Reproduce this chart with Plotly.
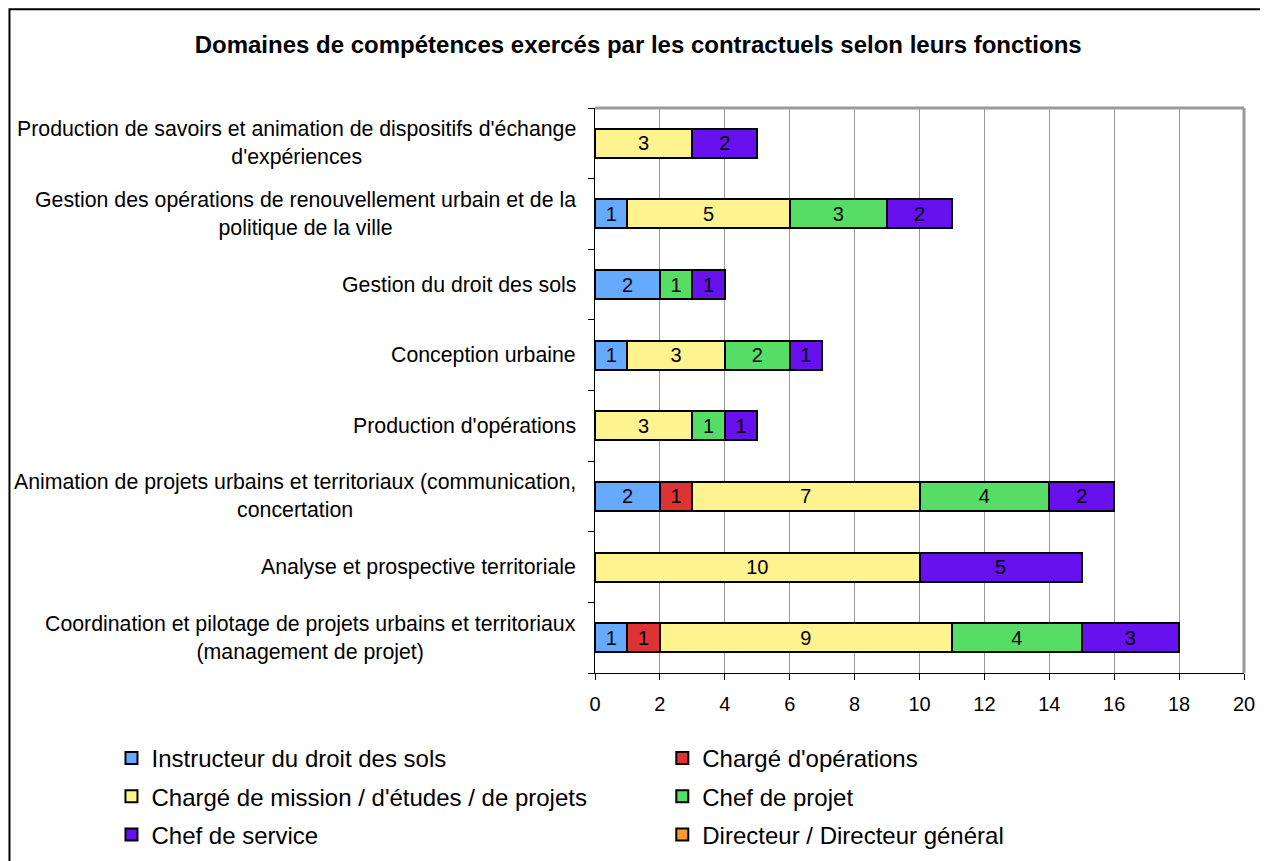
import plotly.graph_objects as go

# categories, bottom to top
domaines = [
    "Coordination et pilotage de projets urbains et territoriaux<br>(management de projet)",
    "Analyse et prospective territoriale",
    "Animation de projets urbains et territoriaux (communication,<br>concertation",
    "Production d'opérations",
    "Conception urbaine",
    "Gestion du droit des sols",
    "Gestion des opérations de renouvellement urbain et de la<br>politique de la ville",
    "Production de savoirs et animation de dispositifs d'échange<br>d'expériences",
]

instructeur = [1, 0, 2, 0, 1, 2, 1, 0]
charge_operations = [1, 0, 1, 0, 0, 0, 0, 0]
charge_mission = [9, 10, 7, 3, 3, 0, 5, 3]
chef_projet = [4, 0, 4, 1, 2, 1, 3, 0]
chef_service = [3, 5, 2, 1, 1, 1, 2, 2]
directeur = [0, 0, 0, 0, 0, 0, 0, 0]

# name, values, colour, legend column
series = [
    ("Instructeur du droit des sols", instructeur, "#66aaff", "legend"),
    ("Chargé d'opérations", charge_operations, "#dd3333", "legend2"),
    ("Chargé de mission / d'études / de projets", charge_mission, "#fff38f", "legend"),
    ("Chef de projet", chef_projet, "#55dd66", "legend2"),
    ("Chef de service", chef_service, "#6611ee", "legend"),
    ("Directeur / Directeur général", directeur, "#ff9933", "legend2"),
]

FONT = "Liberation Sans, Arial, sans-serif"

fig = go.Figure()
for name, vals, color, leg in series:
    xs = [v if v else None for v in vals]
    fig.add_trace(go.Bar(
        x=xs, y=domaines, orientation="h", name=name, legend=leg, legendgroup=name,
        marker=dict(color=color, line=dict(color="black", width=2)),
        text=[str(v) if v else "" for v in vals],
        textposition="inside", insidetextanchor="middle",
        textfont=dict(color="black", size=20, family=FONT),
        hoverinfo="x+name",
    ))

# legends placed in container coordinates so they don't push the margins
legend_style = dict(orientation="v", yref="container", yanchor="top", y=0.1546,
                    xref="container", xanchor="left",
                    font=dict(size=24, family=FONT), tracegroupgap=4,
                    bgcolor="rgba(0,0,0,0)", itemwidth=30)

fig.update_layout(
    barmode="stack",
    bargap=0.59,
    width=1268, height=861,
    paper_bgcolor="white", plot_bgcolor="white",
    font=dict(family=FONT, color="black", size=20),
    title=dict(text="<b>Domaines de compétences exercés par les contractuels selon leurs fonctions</b>",
               x=0.497, xanchor="center", y=0.957, yanchor="middle",
               font=dict(size=24, family=FONT, color="black")),
    margin=dict(l=587, r=32, t=100, b=196, autoexpand=False),
    showlegend=True,
    legend=dict(x=0.0816, **legend_style),
    legend2=dict(x=0.516, **legend_style),
    uniformtext=dict(minsize=10, mode="show"),
)

fig.update_xaxes(
    range=[0, 20], dtick=2, showgrid=True, gridcolor="#999999", gridwidth=1,
    showline=True, linecolor="black", linewidth=1, ticks="outside", ticklen=6,
    tickcolor="black", tickfont=dict(size=20), zeroline=False, ticklabelstandoff=7,
)
fig.update_yaxes(
    showticklabels=False, showline=True, linecolor="black", linewidth=1,
    ticks="outside", ticklen=6, tickcolor="black", tickson="boundaries",
    showgrid=False,
)

# category labels, centred on each line
for d in domaines:
    fig.add_annotation(text=d, x=-0.026, xref="paper", xanchor="right", y=d, yref="y",
                       showarrow=False, align="center", font=dict(size=21.3, family=FONT))

# grey frame on top/right of plot area
fig.add_shape(type="line", xref="paper", yref="paper", x0=0, x1=1, y0=1, y1=1,
              line=dict(color="#999999", width=3))
fig.add_shape(type="line", xref="paper", yref="paper", x0=1, x1=1, y0=0, y1=1,
              line=dict(color="#999999", width=3))
# outer chart border
fig.add_shape(type="rect", xref="paper", yref="paper", x0=-0.9022, x1=1.0354, y0=-0.4, y1=1.175,
              line=dict(color="black", width=2), layer="below")

fig.write_html("out.html")
